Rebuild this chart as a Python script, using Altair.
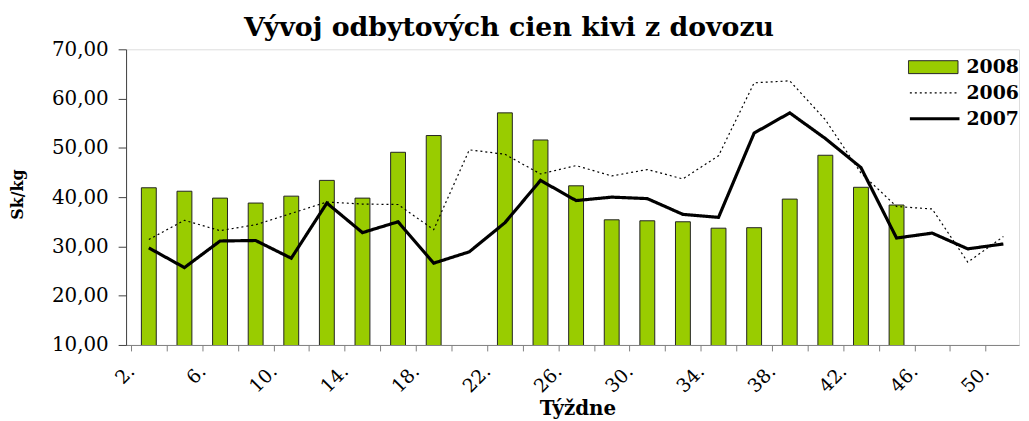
import altair as alt
import pandas as pd

weeks_2008 = [3, 5, 7, 9, 11, 13, 15, 17, 19, 23, 25, 27, 29, 31, 33, 35, 37, 39, 41, 43, 45]
values_2008 = [41.9, 41.2, 39.8, 38.8, 40.2, 43.4, 39.8, 49.1, 52.5, 57.1, 51.6, 42.3,
               35.4, 35.2, 35.0, 33.7, 33.8, 39.6, 48.5, 42.0, 38.4]

weeks_lines = [3, 5, 7, 9, 11, 13, 15, 17, 19, 21, 23, 25, 27, 29, 31, 33, 35, 37, 39,
               41, 43, 45, 47, 49, 51]
values_2006 = [31.4, 35.3, 33.2, 34.4, 36.7, 39.0, 38.6, 38.5, 33.4, 49.6, 48.7, 44.7,
               46.4, 44.3, 45.6, 43.7, 48.4, 63.2, 63.6, 55.7, 44.9, 38.1, 37.6, 26.8, 32.0]
values_2007 = [29.7, 25.7, 31.1, 31.2, 27.6, 38.8, 32.8, 35.0, 26.6, 28.9, 34.8, 43.4,
               39.3, 40.0, 39.7, 36.5, 35.9, 53.0, 57.1, 51.9, 46.0, 31.7, 32.7, 29.5, 30.5]

x_tick_values = list(range(2, 52, 2))

bars_df = pd.DataFrame({"week": weeks_2008, "value": values_2008, "s08": "2008"})
lines_df = pd.concat([
    pd.DataFrame({"week": weeks_lines, "value": values_2006, "series": "2006"}),
    pd.DataFrame({"week": weeks_lines, "value": values_2007, "series": "2007"}),
])

FONT = "DejaVu Serif"

x_enc = alt.X(
    "week:Q",
    scale=alt.Scale(domain=[2, 51.6], nice=False, zero=False),
    axis=alt.Axis(
        title="Týždne",
        values=x_tick_values,
        labelExpr="(datum.value - 2) % 4 == 0 ? datum.value + '.' : ''",
        labelAngle=315,
        labelAlign="right",
        labelBaseline="middle",
        labelPadding=17,
        labelFont=FONT,
        labelFontSize=19,
        labelColor="#000",
        labelOverlap=False,
        labelFlush=False,
        tickSize=6,
        tickColor="#808080",
        domainColor="#808080",
        grid=False,
        titleFont=FONT,
        titleFontSize=20,
        titleFontWeight="bold",
        titleColor="#000",
        titleX=455,
        titleY=70,
        titleAlign="center",
        titleBaseline="alphabetic",
    ),
)

y_enc = alt.Y(
    "value:Q",
    scale=alt.Scale(domain=[10, 70], nice=False, zero=False),
    axis=alt.Axis(
        title="Sk/kg",
        values=[10, 20, 30, 40, 50, 60, 70],
        labelExpr="replace(format(datum.value, '.2f'), '.', ',')",
        labelFont=FONT,
        labelFontSize=20,
        labelColor="#000",
        labelPadding=10,
        tickSize=8,
        tickColor="#404040",
        domainColor="#404040",
        grid=False,
        titleFont=FONT,
        titleFontSize=16,
        titleFontWeight="bold",
        titleColor="#000",
        titleAngle=270,
        titleX=-109,
        titleY=146,
        titleAlign="center",
        titleBaseline="middle",
    ),
)

bars = alt.Chart(bars_df).mark_bar(size=15, stroke="#222", strokeWidth=1, clip=True).encode(
    x=x_enc,
    y=y_enc,
    fill=alt.Fill(
        "s08:N",
        scale=alt.Scale(domain=["2008"], range=["#99CC00"]),
        legend=alt.Legend(
            title=None,
            orient="none",
            legendX=788,
            legendY=8,
            padding=0,
            symbolType="M-1,-0.26H1V0.26H-1Z",
            symbolSize=2500,
            symbolStrokeColor="#222",
            symbolStrokeWidth=1,
            symbolOpacity=1,
            clipHeight=20,
            labelFont=FONT,
            labelFontSize=19,
            labelFontWeight="bold",
            labelColor="#000",
            labelOffset=8,
        ),
    ),
)

line_legend = alt.Legend(
    title=None,
    orient="none",
    legendX=788,
    legendY=34,
    padding=0,
    symbolType="stroke",
    symbolSize=2500,
    symbolStrokeColor="#000",
    clipHeight=20,
    rowPadding=6,
    labelFont=FONT,
    labelFontSize=19,
    labelFontWeight="bold",
    labelColor="#000",
    labelOffset=5,
)

lines = alt.Chart(lines_df).mark_line(color="#000").encode(
    x=x_enc,
    y=y_enc,
    detail="series:N",
    strokeDash=alt.StrokeDash(
        "series:N",
        scale=alt.Scale(domain=["2006", "2007"], range=[[2, 3], [1, 0]]),
        legend=line_legend,
    ),
    strokeWidth=alt.StrokeWidth(
        "series:N",
        scale=alt.Scale(domain=["2006", "2007"], range=[1.2, 3.2]),
        legend=line_legend,
    ),
)

chart = alt.layer(bars, lines).properties(
    width=900,
    height=298,
    autosize=alt.AutoSizeParams(type="none"),
    padding={"left": 119, "top": 40, "right": 2, "bottom": 75},
    title=alt.Title(
        "Vývoj odbytových cien kivi z dovozu",
        font=FONT,
        fontSize=27,
        fontWeight="bold",
        color="#000",
        anchor="middle",
        frame="group",
        dx=-64,
        dy=36,
        baseline="alphabetic",
        offset=12,
    ),
).configure_view(stroke=None).configure(background="white")

chart.save("out.html", embed_options={"renderer": "svg", "actions": False})
